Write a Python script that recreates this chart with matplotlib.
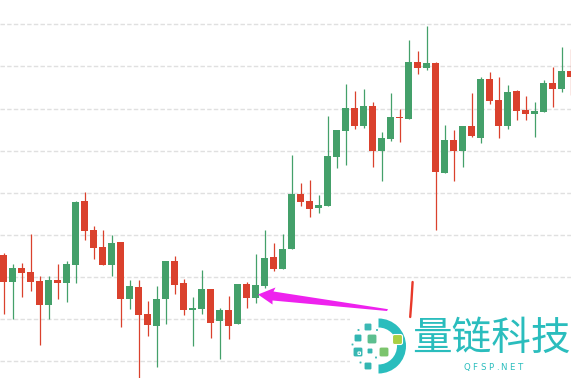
import matplotlib
matplotlib.use("Agg")
import matplotlib.pyplot as plt
from matplotlib.patches import Polygon, Rectangle, Wedge, FancyBboxPatch
from matplotlib.lines import Line2D

# ---- data (price units; no axis labels in the reference) ----
opens  = [145,118,132,128,119, 95,120,117,135,199,170,153,135,158,101,113, 86, 74,101,139,
          117, 90, 91,111, 79, 90, 76,116,102,114,143,131,151,206,199,192,194,243,269,292,
          274,294,249,261,283,281,338,332,337,227,260,249,274,262,321,300,274,309,290,286,
          288,317,311,329]
highs  = [147,136,137,166,124,124,136,139,199,208,174,170,165,158,120,120, 99,114,139,144,
          121,103,130,111, 92,104,116,118,146,170,157,166,245,217,220,205,284,270,316,309,
          311,298,268,307,291,360,349,374,338,275,270,274,307,323,328,323,315,310,304,298,
          320,333,353,351]
lows   = [ 86, 81,103,109, 55, 81,101, 98,117,160,141,135,124, 73, 91, 22, 64, 33, 76,106,
           85, 54, 86, 62, 41, 61, 76, 92, 97,112,129,131,151,194,183,187,194,232,235,271,
          272,233,219,259,258,281,326,330,170,227,219,233,263,257,296,262,271,280,280,263,
          288,293,308,305]
closes = [118,132,127,118, 95,120,117,136,198,169,152,135,157,101,114, 85, 75,101,139,115,
           90, 92,111, 77, 90, 74,116,102,115,142,131,151,206,198,191,195,244,270,292,274,
          294,249,262,283,282,338,332,337,228,260,249,274,264,321,299,274,308,289,286,289,
          317,311,329,323]
grid_base, grid_step, n_grid = 38.7, 42.125, 9

UP, DOWN = "#44a06a", "#da412d"
W, H = 571, 378

fig = plt.figure(figsize=(W / 100, H / 100), dpi=100)
fig.patch.set_facecolor("white")
ax = fig.add_axes([0, 0, 1, 1])
ax.set_xlim(-3.5 / 9, (W - 3.5) / 9)
ax.set_ylim(400 - H, 400)
ax.axis("off")

levels = [grid_base + grid_step * i for i in range(n_grid)]
ax.hlines(levels, 0.2 / 9 - 3.5 / 9, (W - 3.5) / 9, colors="#e0e0e0", linewidth=1.0,
          linestyles=(0, (3.2, 1.6)), zorder=0)

for k, (o, h, l, c) in enumerate(zip(opens, highs, lows, closes)):
    col = UP if c >= o else DOWN
    ax.vlines(k, l, h, color=col, linewidth=0.9, zorder=2)
    bottom = min(o, c)
    height = max(abs(c - o), 1.5)
    ax.bar(k, height, bottom=bottom, width=0.78, color=col, linewidth=0, zorder=3)

# ---- overlay (annotations & logo) in pixel coordinates ----
ov = fig.add_axes([0, 0, 1, 1], zorder=5)
ov.set_xlim(0, W)
ov.set_ylim(H, 0)
ov.axis("off")
ov.patch.set_alpha(0)

# white logo background
ov.add_patch(Rectangle((350, 296), W - 350, H - 296, facecolor="white", edgecolor="none", zorder=1))

# magenta arrow
arrow_pts = [(258, 294.5), (275.5, 287.5), (273.5, 291.5), (388, 309.2),
             (387, 311), (272.5, 300.5), (272.5, 304.5)]
ov.add_patch(Polygon(arrow_pts, closed=True, facecolor="#ee22ee", edgecolor="none", zorder=4))

# red hand-drawn mark
ov.add_line(Line2D([412.6, 411.5, 410.2], [282, 300, 317], color="#e8392a", linewidth=1.7,
                   solid_capstyle="round", zorder=4))

# logo ring
teal = "#2abdbd"
ov.add_patch(Wedge((378.5, 346), 27.5, -90, 90, width=9, facecolor=teal, edgecolor="none", zorder=2))

squares = [
    (364, 323, 8, "#3bb8b4"), (354, 334, 8, "#32b6b2"), (367, 334, 10, "#5cbf8f"),
    (392.5, 334.5, 10, "#a9d043"), (367, 348, 6, "#36b7b3"), (353, 347, 10, "#35b7b2"),
    (379, 347, 10, "#7bc46c"), (364, 362, 8, "#33b6b2"),
    (357, 328.5, 3, "#3fbab6"), (351, 343, 3, "#3fbab6"), (359, 361, 3, "#3fbab6"),
    (374.5, 356, 3, "#3fbab6"), (375.5, 328.5, 3, "#3fbab6"), (358, 352, 2.5, "#3fbab6"),
]
for x0, y0, s, c in squares:
    ov.add_patch(FancyBboxPatch((x0, y0), s, s, boxstyle="round,pad=0,rounding_size=%.2f" % (s * 0.2),
                                facecolor=c, edgecolor="white", linewidth=0.8, zorder=3))

ov.text(491, 339, "量链科技", fontsize=28.5, color=teal, ha="center", va="center",
        family=["Noto Sans CJK SC", "DejaVu Sans"], zorder=3)
sub = "QFSP.NET"
xs = [467, 475, 483, 491, 497.5, 503, 512, 521]
for ch, x in zip(sub, xs):
    ov.text(x, 367.5, ch, fontsize=6.2, color=teal, ha="center", va="center",
            family="DejaVu Sans", zorder=3)

fig.savefig("out.png", dpi=100, facecolor="white")
